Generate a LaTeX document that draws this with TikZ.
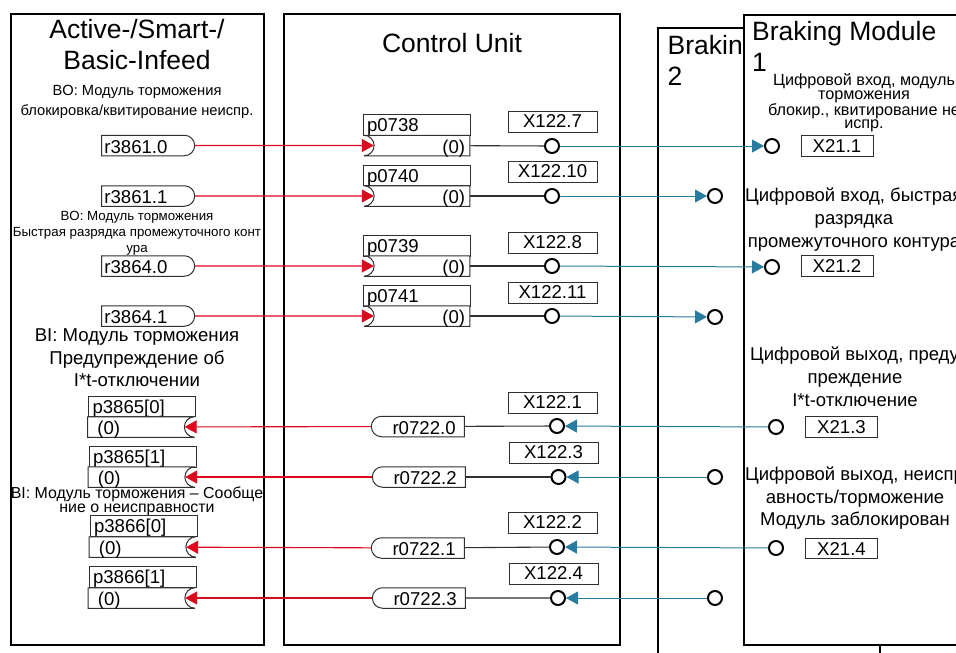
\documentclass[tikz,border=0pt]{standalone}
\usepackage{fontspec}
\setmainfont{Liberation Sans}
\usetikzlibrary{arrows.meta,shapes.misc}
\definecolor{sigred}{HTML}{DC0A1E}
\definecolor{sigblue}{HTML}{2A7BA0}
\definecolor{boxgray}{HTML}{303030}
\tikzset{
    unitbox/.style={draw=black,line width=2pt,fill=white,inner sep=0pt},
    smallbox/.style={draw=boxgray,line width=1pt,fill=white,inner sep=0pt,minimum height=20.5pt,
        text height=15.5pt,text depth=2.5pt,font=\fontsize{18.6}{20}\selectfont},
    portlab/.style={inner sep=0pt,text height=17.5pt,text depth=2.5pt,font=\fontsize{18.6}{20}\selectfont},
    xbox/.style={smallbox,minimum width=89pt,text height=14.5pt,text depth=3.5pt},
    parbox/.style={smallbox,minimum width=107pt,align=left,text width=99pt,inner xsep=4pt},
    outport/.style={smallbox,rounded rectangle,rounded rectangle left arc=none,minimum width=93pt,
        label={[portlab,anchor=west,xshift=3pt]west:#1}},
    leftport/.style={smallbox,rounded rectangle,rounded rectangle left arc=convex,rounded rectangle right arc=none,minimum width=93pt,
        label={[portlab,anchor=east,xshift=-9pt]east:#1}},
    inport/.style={smallbox,rounded rectangle,rounded rectangle left arc=concave,rounded rectangle right arc=none,minimum width=106pt,
        label={[portlab,anchor=east,xshift=-5pt]east:#1}},
    backport/.style={smallbox,rounded rectangle,rounded rectangle left arc=none,rounded rectangle right arc=concave,minimum width=107pt,
        label={[portlab,anchor=west,xshift=10pt]west:#1}},
    pin/.style={circle,draw=black,line width=2pt,fill=white,minimum size=14pt,inner sep=0pt},
    redline/.style={draw=sigred,line width=1.1pt},
    blueline/.style={draw=sigblue,line width=1pt},
    blackline/.style={draw=boxgray,line width=1.1pt},
    redtip/.style={redline,-{Triangle[length=12pt,width=13pt]},shorten >=-10pt},
    bluetip/.style={blueline,-{Triangle[length=12pt,width=13pt]}},
    title/.style={font=\fontsize{26.5}{31}\selectfont,align=center,inner sep=0pt},
    note/.style={align=center,inner sep=0pt}
}
\begin{document}
\begin{tikzpicture}[x=1pt,y=-1pt]
    \useasboundingbox (0,0) rectangle (956,653);
    \clip (0,0) rectangle (956,653);
    \node[unitbox,minimum width=253pt,minimum height=631pt] (infeed) at (137.5,329.5) {};
    \node[unitbox,minimum width=336pt,minimum height=631pt] (cu) at (452,329.5) {};
    \node[unitbox,minimum width=222pt,minimum height=700pt] (bm2) at (769,378) {};
    \node[title,anchor=north west,align=left] (bm2title) at (667.5,35) {Braking\\2};
    \node[unitbox,minimum width=300pt,minimum height=630pt] (bm1) at (894,330) {};
    \node[title] (infeedtitle) at (137,45) {Active-/Smart-/\\Basic-Infeed};
    \node[title] (cutitle) at (452,43) {Control Unit};
    \node[title,anchor=north west,align=left] (bm1title) at (752,21) {Braking Module\\1};
    \node[note,font=\fontsize{14.7}{20}\selectfont] (note1) at (137,102) {BO: Модуль торможения\\блокировка/квитирование неиспр.};
    \node[note,font=\fontsize{13.3}{16}\selectfont] (note2) at (137,233) {BO: Модуль торможения\\Быстрая разрядка промежуточного конт\\ура};
    \node[note,font=\fontsize{18.6}{22.5}\selectfont] (note3) at (137,358) {BI: Модуль торможения\\Предупреждение об\\I*t-отключении};
    \node[note,font=\fontsize{15.9}{14}\selectfont] (note4) at (137,501) {BI: Модуль торможения -- Сообще\\ние о неисправности};
    \node[note,font=\fontsize{16.2}{13.5}\selectfont] (note5) at (864,103) {Цифровой вход, модуль\\торможения\\блокир., квитирование не\\испр.};
    \node[note,font=\fontsize{18.5}{22.5}\selectfont,anchor=west] (note6a) at (745,197) {Цифровой вход, быстрая};
    \node[note,font=\fontsize{18.5}{22.5}\selectfont] (note6b) at (854,233) {разрядка\\промежуточного контура};
    \node[note,font=\fontsize{18.5}{22.5}\selectfont,anchor=west] (note7a) at (750,356) {Цифровой выход, преду};
    \node[note,font=\fontsize{18.5}{22.5}\selectfont] (note7b) at (855,390) {преждение\\I*t-отключение};
    \node[note,font=\fontsize{18.5}{22.5}\selectfont,anchor=west] (note8a) at (745,476) {Цифровой выход, неиспр};
    \node[note,font=\fontsize{18.5}{22.5}\selectfont] (note8b) at (855,509.5) {авность/торможение\\Модуль заблокирован};

    \node[outport=r3861.0] (r0) at (145.5,145.5) {};
    \node[outport=r3861.1] (r1) at (145.5,196) {};
    \node[outport=r3864.0] (r2) at (145.5,266) {};
    \node[outport=r3864.1] (r3) at (145.5,316) {};

    \node[parbox] (p738) at (416.5,125) {p0738};
    \node[inport=(0)] (p738in) at (422,145.5) {};
    \node[parbox] (p740) at (416.5,175.5) {p0740};
    \node[inport=(0)] (p740in) at (422,196) {};
    \node[parbox] (p739) at (416.5,246) {p0739};
    \node[inport=(0)] (p739in) at (422,266) {};
    \node[parbox] (p741) at (416.5,296) {p0741};
    \node[inport=(0)] (p741in) at (422,316) {};

    \node[parbox] (p865a) at (142,406.5) {p3865[0]};
    \node[backport=(0)] (p865ain) at (136,427) {};
    \node[parbox] (p865b) at (142.5,457) {p3865[1]};
    \node[backport=(0)] (p865bin) at (136.5,477) {};
    \node[parbox] (p866a) at (143.5,526) {p3866[0]};
    \node[backport=(0)] (p866ain) at (137.5,547) {};
    \node[parbox] (p866b) at (142.5,577) {p3866[1]};
    \node[backport=(0)] (p866bin) at (136.5,598) {};

    \node[leftport=r0722.0] (r7220) at (420.5,426.5) {};
    \node[leftport=r0722.2] (r7222) at (421.5,477) {};
    \node[leftport=r0722.1] (r7221) at (420.5,548) {};
    \node[leftport=r0722.3] (r7223) at (421.5,598) {};

    \node[xbox] (x7) at (552.5,122) {X122.7};
    \node[xbox] (x10) at (552.5,172) {X122.10};
    \node[xbox] (x8) at (552.5,243) {X122.8};
    \node[xbox] (x11) at (552.5,293) {X122.11};
    \node[xbox] (x1) at (552.5,403) {X122.1};
    \node[xbox] (x3) at (553.5,453) {X122.3};
    \node[xbox] (x2) at (552.5,523) {X122.2};
    \node[xbox] (x4) at (553.5,574) {X122.4};

    \node[smallbox,minimum width=72pt] (t1) at (837,146) {X21.1};
    \node[smallbox,minimum width=72pt] (t2) at (837,266) {X21.2};
    \node[smallbox,minimum width=72pt] (t3) at (841.5,427) {X21.3};
    \node[smallbox,minimum width=72pt] (t4) at (841.5,548.5) {X21.4};

    \node[pin] (c7) at (552,146) {};
    \node[pin] (c10) at (552,196) {};
    \node[pin] (c8) at (552,266) {};
    \node[pin] (c11) at (552,316) {};
    \node[pin] (c1) at (557,426) {};
    \node[pin] (c3) at (558.5,477) {};
    \node[pin] (c2) at (557,547) {};
    \node[pin] (c4) at (558,598) {};

    \node[pin] (m1) at (772,146) {};
    \node[pin] (n1) at (715,196) {};
    \node[pin] (m2) at (772,267) {};
    \node[pin] (n2) at (715,317) {};
    \node[pin] (m3) at (776,427) {};
    \node[pin] (n3) at (715,477) {};
    \node[pin] (m4) at (776,548) {};
    \node[pin] (n4) at (715,598) {};

    \draw[redtip] (r0) -- (p738in);
    \draw[redtip] (r1) -- (p740in);
    \draw[redtip] (r2) -- (p739in);
    \draw[redtip] (r3) -- (p741in);
    \draw[redtip] (r7220) -- (p865ain);
    \draw[redtip] (r7222) -- (p865bin);
    \draw[redtip] (r7221) -- (p866ain);
    \draw[redtip] (r7223) -- (p866bin);

    \draw[blackline] (p738in) -- (c7);
    \draw[blackline] (p740in) -- (c10);
    \draw[blackline] (p739in) -- (c8);
    \draw[blackline] (p741in) -- (c11);
    \draw[blackline] (r7220) -- (c1);
    \draw[blackline] (r7222) -- (c3);
    \draw[blackline] (r7221) -- (c2);
    \draw[blackline] (r7223) -- (c4);

    \draw[bluetip] (c7) -- (m1);
    \draw[bluetip] (c10) -- (n1);
    \draw[bluetip] (c8) -- (m2);
    \draw[bluetip] (c11) -- (n2);
    \draw[bluetip] (m3) -- (c1);
    \draw[bluetip] (n3) -- (c3);
    \draw[bluetip] (m4) -- (c2);
    \draw[bluetip] (n4) -- (c4);
\end{tikzpicture}
\end{document}
